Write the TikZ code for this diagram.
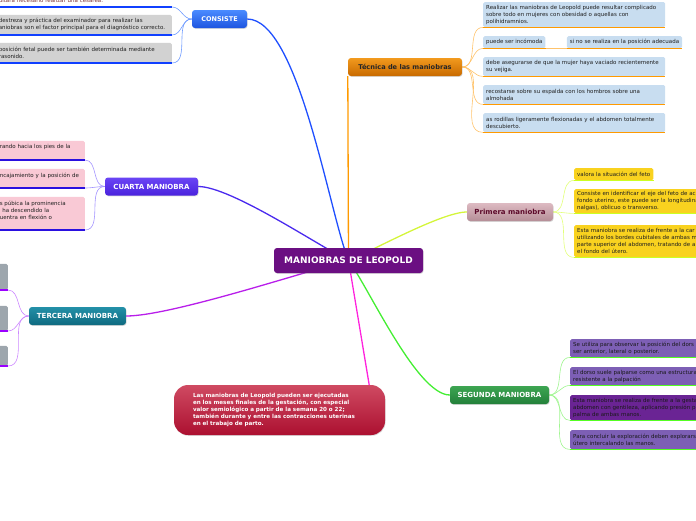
\documentclass[tikz,border=0pt]{standalone}
\usepackage{fontspec}
\setmainfont{DejaVu Sans}
\usetikzlibrary{positioning,backgrounds,shadows}

\definecolor{cenfill}{HTML}{6B0F82}
\definecolor{consA}{HTML}{4A8BFF}
\definecolor{consB}{HTML}{1E55E0}
\definecolor{tecA}{HTML}{F29A1E}
\definecolor{tecB}{HTML}{C86A00}
\definecolor{cuarA}{HTML}{6A45F5}
\definecolor{cuarB}{HTML}{4A22DD}
\definecolor{tercA}{HTML}{2390A8}
\definecolor{tercB}{HTML}{0F6A80}
\definecolor{primA}{HTML}{DDBAC2}
\definecolor{primB}{HTML}{B58E97}
\definecolor{primtext}{HTML}{5C0A2A}
\definecolor{segA}{HTML}{3DA552}
\definecolor{segB}{HTML}{23803A}
\definecolor{notaA}{HTML}{CF4A62}
\definecolor{notaB}{HTML}{AC1030}
% branch colours
\definecolor{brblue}{HTML}{1F4FFF}
\definecolor{brorange}{HTML}{FF9A00}
\definecolor{brviolet}{HTML}{4A2AEE}
\definecolor{brmagenta}{HTML}{B81EEA}
\definecolor{brlime}{HTML}{D4F53A}
\definecolor{brgreen}{HTML}{44EE33}
\definecolor{brpink}{HTML}{FF22DD}
% twig and underline colours
\definecolor{twblue}{HTML}{6F9BFF}
\definecolor{tworange}{HTML}{FFC36B}
\definecolor{twviolet}{HTML}{A394FF}
\definecolor{twmagenta}{HTML}{CC88FF}
\definecolor{twlime}{HTML}{E2FF7A}
\definecolor{twgreen}{HTML}{A0F590}
\definecolor{ulblue}{HTML}{1040FF}
\definecolor{ulviolet}{HTML}{2A10E0}
\definecolor{ulmagenta}{HTML}{9A00FF}
\definecolor{ullime}{HTML}{CCFF22}
\definecolor{ulgreen}{HTML}{55FF22}
% leaf fills
\definecolor{tecleaf}{HTML}{C8DDF0}
\definecolor{primleaf}{HTML}{F9D21F}
\definecolor{segleaf}{HTML}{7D5FB5}
\definecolor{segleafdark}{HTML}{6A2494}
\definecolor{consleaf}{HTML}{D2D2D2}
\definecolor{cuarleaf}{HTML}{F9C9D5}
\definecolor{tercleaf}{HTML}{9DA6AD}
\definecolor{constext}{HTML}{7A3030}

\begin{document}
\begin{tikzpicture}[x=1pt, y=-1pt,
  every node/.style={font=\fontsize{5.5}{7}\selectfont},
  topic/.style={rounded corners=3pt, text=white, inner sep=0pt, minimum height=18pt, font=\bfseries\fontsize{7}{8}\selectfont, drop shadow={opacity=0.3, shadow xshift=0.6pt, shadow yshift=-0.8pt}},
  leaf/.style={rounded corners=1.5pt, inner xsep=3pt, inner ysep=1.5pt, align=left, text=black!88},
  branch/.style={line width=1.3pt},
  twig/.style={line width=0.6pt},
  uline/.style={line width=1.8pt}]
\useasboundingbox (0,0) rectangle (696,520);
\clip (0,0) rectangle (696,520);

% centre and main topics
\node[topic, fill=cenfill, minimum width=149pt, minimum height=25pt, font=\bfseries\fontsize{9}{10}\selectfont] (cen) at (348.5,260.5) {MANIOBRAS DE LEOPOLD};
\node[topic, top color=consA, bottom color=consB, minimum width=55pt, font=\bfseries\fontsize{6.5}{8}\selectfont] (cons) at (219.5,19) {CONSISTE};
\node[topic, top color=tecA, bottom color=tecB, text=black!85, minimum width=114pt, font=\bfseries\fontsize{6.6}{8}\selectfont] (tec) at (405,67) {Técnica de las maniobras};
\node[topic, top color=cuarA, bottom color=cuarB, minimum width=93pt] (cuar) at (151.5,186.5) {CUARTA MANIOBRA};
\node[topic, top color=tercA, bottom color=tercB, minimum width=97pt] (terc) at (77.5,316) {TERCERA MANIOBRA};
\node[topic, top color=primA, bottom color=primB, text=primtext, minimum width=86pt] (prim) at (510,212) {Primera maniobra};
\node[topic, top color=segA, bottom color=segB, minimum width=99pt] (seg) at (499.5,395) {SEGUNDA MANIOBRA};
\node[topic, top color=notaA, bottom color=notaB, rounded corners=14pt, minimum width=211pt, minimum height=50pt, text width=173pt, align=left, font=\bfseries\fontsize{5.6}{7}\selectfont] (nota) at (279.5,410) {Las maniobras de Leopold pueden ser ejecutadas\\en los meses finales de la gestación, con especial\\valor semiológico a partir de la semana 20 o 22;\\también durante y entre las contracciones uterinas\\en el trabajo de parto.};

% Tecnica de las maniobras
\node[leaf, fill=tecleaf, anchor=north west, text width=176pt, minimum height=25pt] (tec1) at (483,2) {Realizar las maniobras de Leopold puede resultar complicado\\sobre todo en mujeres con obesidad o aquellas con\\polihidramnios.};
\node[leaf, fill=tecleaf, anchor=north west, minimum height=12pt] (tec2) at (483,36) {puede ser incómoda};
\node[leaf, fill=tecleaf, minimum height=12pt, right=21pt of tec2] (tec2b) {si no se realiza en la posición adecuada};
\node[leaf, fill=tecleaf, anchor=north west, text width=176pt, minimum height=19pt] (tec3) at (483,57) {debe asegurarse de que la mujer haya vaciado recientemente\\su vejiga.};
\node[leaf, fill=tecleaf, anchor=north west, text width=176pt, minimum height=19pt] (tec4) at (483,85) {recostarse sobre su espalda con los hombros sobre una\\almohada};
\node[leaf, fill=tecleaf, anchor=north west, text width=176pt, minimum height=19pt] (tec5) at (483,113) {as rodillas ligeramente flexionadas y el abdomen totalmente\\descubierto.};

% Primera maniobra
\node[leaf, fill=primleaf, anchor=north west, minimum height=12pt] (prim1) at (574,168) {valora la situación del feto};
\node[leaf, fill=primleaf, anchor=north west, text width=160pt, minimum height=24pt] (prim2) at (574,189) {Consiste en identificar el eje del feto de ac\\fondo uterino, este puede ser la longitudina\\nalgas), oblicuo o transverso.};
\node[leaf, fill=primleaf, anchor=north west, text width=160pt, minimum height=32pt] (prim3) at (574,225) {Esta maniobra se realiza de frente a la car\\utilizando los bordes cubitales de ambas m\\parte superior del abdomen, tratando de a\\el fondo del útero.};

% Segunda maniobra
\node[leaf, fill=segleaf, anchor=north west, text width=160pt, minimum height=18pt, text=black!90] (seg1) at (570,339) {Se utiliza para observar la posición del dors\\ser anterior, lateral o posterior.};
\node[leaf, fill=segleaf, anchor=north west, text width=160pt, minimum height=18pt, text=black!90] (seg2) at (570,367) {El dorso suele palparse como una estructura\\resistente a la palpación};
\node[leaf, fill=segleafdark, anchor=north west, text width=160pt, minimum height=25pt, text=black!90] (seg3) at (570,395) {Esta maniobra se realiza de frente a la gesta\\abdomen con gentileza, aplicando presión p\\palma de ambas manos.};
\node[leaf, fill=segleaf, anchor=north west, text width=160pt, minimum height=19pt, text=black!90] (seg4) at (570,430) {Para concluir la exploración deben explorars\\útero intercalando las manos.};

% Consiste
\node[leaf, anchor=south east, text width=170pt, minimum height=12pt, text=constext] (cons0) at (172,7) {ultará necesario realizar una cesárea.};
\node[leaf, fill=consleaf, anchor=south east, text width=170pt, minimum height=20pt] (cons1) at (172,35) {destreza y práctica del examinador para realizar las\\aniobras son el factor principal para el diagnóstico correcto.};
\node[leaf, fill=consleaf, anchor=south east, text width=170pt, minimum height=20pt] (cons2) at (172,63) {posición fetal puede ser también determinada mediante\\rasonido.};

% Cuarta maniobra
\node[leaf, fill=cuarleaf, anchor=south east, text width=82pt, minimum height=19pt] (cuar1) at (85,160) {rando hacia los pies de la\\\mbox{}};
\node[leaf, fill=cuarleaf, anchor=south east, text width=82pt, minimum height=19pt] (cuar2) at (85,188) {ncajamiento y la posición de\\\mbox{}};
\node[leaf, fill=cuarleaf, anchor=south east, text width=82pt, minimum height=33pt] (cuar3) at (85,230) {s púbica la prominencia\\\hspace*{2.5pt}ha descendido la\\uentra en flexión o\\\mbox{}};

% Tercera maniobra
\node[leaf, fill=tercleaf, anchor=south east, minimum width=30pt, minimum height=26pt] (terc1) at (8,290) {};
\node[leaf, fill=tercleaf, anchor=south east, minimum width=30pt, minimum height=25pt] (terc2) at (8,331) {};
\node[leaf, fill=tercleaf, anchor=south east, minimum width=30pt, minimum height=20pt] (terc3) at (8,366) {};

% underlines
\foreach \n in {tec1,tec2,tec2b,tec3,tec4,tec5} \draw[uline, brorange] (\n.south west) -- (\n.south east);
\foreach \n in {prim1,prim2,prim3} \draw[uline, ullime] (\n.south west) -- (\n.south east);
\foreach \n in {seg1,seg2,seg3,seg4} \draw[uline, ulgreen] (\n.south west) -- (\n.south east);
\foreach \n in {cons0,cons1,cons2} \draw[uline, ulblue] (\n.south west) -- (\n.south east);
\foreach \n in {cuar1,cuar2,cuar3} \draw[uline, ulviolet] (\n.south west) -- (\n.south east);
\foreach \n in {terc1,terc2,terc3} \draw[uline, ulmagenta] (\n.south west) -- (\n.south east);

% connectors
\begin{pgfonlayer}{background}
\draw[branch, brblue] (cen.center) to[out=112, in=0, looseness=0.5] (cons.east);
\draw[branch, brorange] (cen.center) -- (tec.south west);
\draw[branch, brviolet] (cen.center) to[out=154, in=0, looseness=0.5] (cuar.east);
\draw[branch, brmagenta] (cen.center) to[out=194, in=0, looseness=0.5] (terc.east);
\draw[branch, brlime] (cen.center) to[out=22, in=180, looseness=0.5] (prim.west);
\draw[branch, brgreen] (cen.center) to[out=-53, in=180, looseness=0.5] (seg.west);
\draw[branch, brpink] (cen.center) -- ([xshift=-16pt]nota.north east);
\foreach \n in {tec1,tec2,tec3,tec4,tec5} \draw[twig, tworange] (tec.east) to[out=0, in=180] (\n.south west);
\draw[twig, tworange] (tec2.south east) -- (tec2b.south west);
\foreach \n in {prim1,prim2,prim3} \draw[twig, twlime] (prim.east) to[out=0, in=180] (\n.south west);
\foreach \n in {seg1,seg2,seg3,seg4} \draw[twig, twgreen] (seg.east) to[out=0, in=180] (\n.south west);
\foreach \n in {cons0,cons1,cons2} \draw[twig, twblue] (cons.west) to[out=180, in=0] (\n.south east);
\foreach \n in {cuar1,cuar2,cuar3} \draw[twig, twviolet] (cuar.west) to[out=180, in=0] (\n.south east);
\foreach \n in {terc1,terc2,terc3} \draw[twig, twmagenta] (terc.west) to[out=180, in=0] (\n.south east);
\end{pgfonlayer}
\end{tikzpicture}
\end{document}
